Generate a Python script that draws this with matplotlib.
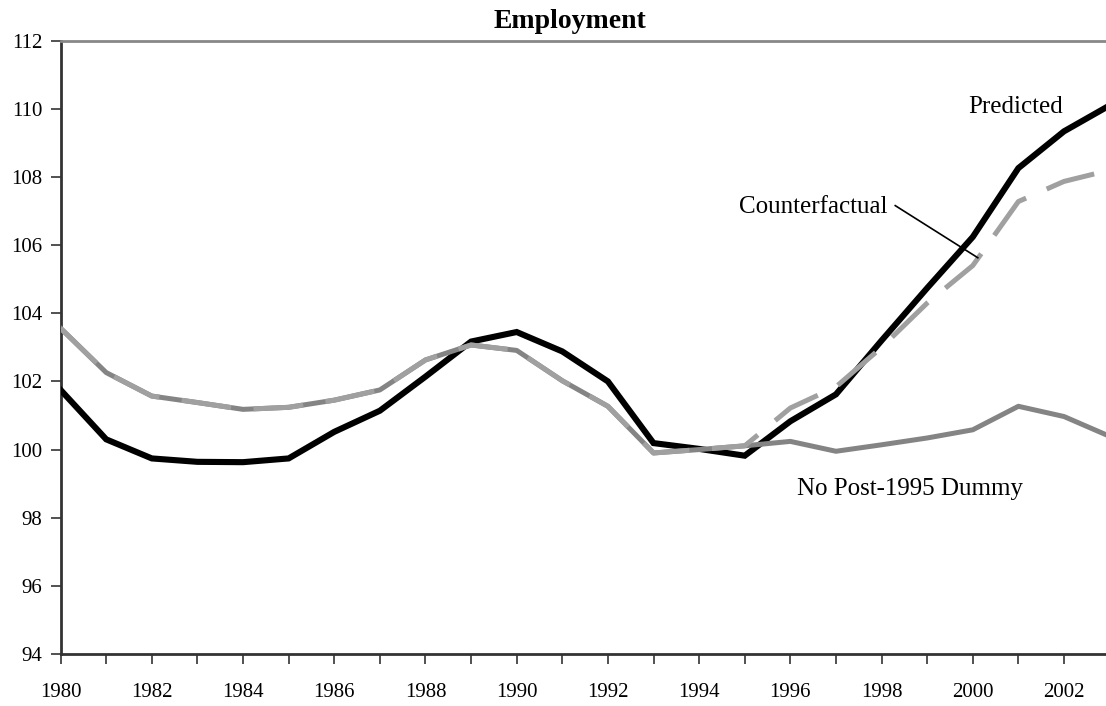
import numpy as np
import matplotlib
matplotlib.use('Agg')
import matplotlib.pyplot as plt

plt.rcParams['font.family'] = ['Liberation Serif', 'DejaVu Serif']

# Data
years = list(range(1980, 2004))
predicted = [101.75, 100.30, 99.74, 99.64, 99.63, 99.74, 100.52, 101.14, 102.14, 103.17,
             103.45, 102.88, 102.00, 100.19, 100.02, 99.82, 100.83, 101.62, 103.20, 104.74,
             106.24, 108.26, 109.34, 110.10]
counterfactual = [103.56, 102.26, 101.57, 101.38, 101.18, 101.24, 101.45, 101.75, 102.63, 103.07,
                  102.91, 102.02, 101.27, 99.90, 100.00, 100.11, 101.22, 101.84, 103.00, 104.30,
                  105.40, 107.28, 107.87, 108.20]
no_dummy = [103.56, 102.26, 101.57, 101.38, 101.18, 101.24, 101.45, 101.75, 102.63, 103.07,
            102.91, 102.02, 101.27, 99.90, 100.00, 100.11, 100.24, 99.95, 100.14, 100.34,
            100.58, 101.27, 100.97, 100.39]
y_ticks = list(range(94, 113, 2))
x_ticks = list(range(1980, 2003))
x_labels = [str(y) if y % 2 == 0 else '' for y in x_ticks]

fig = plt.figure(figsize=(11.06, 7.06), dpi=100)
ax = fig.add_axes([60.6 / 1106, 52 / 706, 1049 / 1106, 613.3 / 706])

ax.plot(years, predicted, color='black', lw=4.4, solid_joinstyle='miter', zorder=3)
ax.plot(years, no_dummy, color='#848484', lw=3.6, zorder=4)
ax.plot(years, counterfactual, color='#a0a0a0', lw=3.6, dashes=(10, 4.5), zorder=5)

ax.set_xlim(1980, 2003)
ax.set_ylim(94, 112)
ax.set_yticks(y_ticks)
ax.set_xticks(x_ticks)
ax.set_xticklabels(x_labels)
ax.tick_params(axis='both', labelsize=15, length=7, width=1.2, color='#333333', direction='out')
ax.tick_params(axis='x', pad=14)
ax.tick_params(axis='y', pad=6)

for side in ['left', 'bottom']:
    ax.spines[side].set_color('#333333')
    ax.spines[side].set_linewidth(2)
ax.spines['top'].set_color('#888888')
ax.spines['top'].set_linewidth(2)
ax.spines['right'].set_visible(False)

fig.text(570 / 1106, 1 - 22 / 706, 'Employment', ha='center', va='center',
         fontsize=20, fontweight='bold')

ax.text(1999.9, 109.89, 'Predicted', fontsize=18, ha='left', va='baseline')
ax.text(1998.12, 106.93, 'Counterfactual', fontsize=18, ha='right', va='baseline')
ax.plot([1998.30, 2000.11], [107.16, 105.63], color='black', lw=1.2, zorder=6)
ax.text(1996.15, 98.67, 'No Post-1995 Dummy', fontsize=18, ha='left', va='baseline')

fig.savefig('out.png', dpi=100)
